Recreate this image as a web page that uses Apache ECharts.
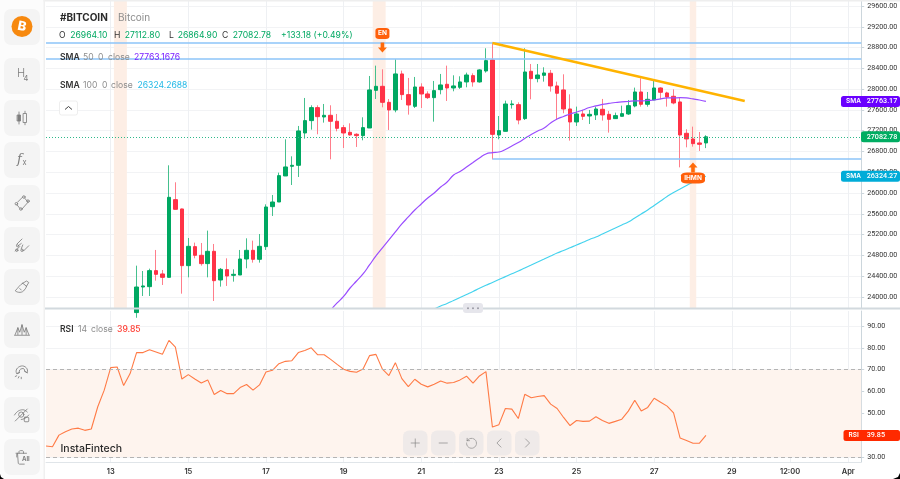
<!DOCTYPE html>
<html><head><meta charset="utf-8">
<style>html,body{margin:0;padding:0;background:#fff;overflow:hidden}#c{width:900px;height:479px}</style>
<script src="https://cdn.jsdelivr.net/npm/echarts@6/dist/echarts.min.js"></script>
</head><body><div id="c"></div>
<script>
// ---------- data ----------
const slotCount = 127;
const firstCandle = 14;
const tickIndex = [10,22,34,46,58,70,82,94,106,115,124];
const tickLabels = ['13','15','17','19','21','23','25','27','29','12:00','Apr'];
const candleOpen = [23700,24192,24199,24507,24443,24378,25873,25694,24603,24969,24802,24642,24879,24327,24526,24417,24423,24731,24898,24725,24969,25738,25828,26329,26515,26534,27156,27394,27644,27464,27496,27381,27259,27169,27131,27105,27252,27977,28054,27746,27599,28292,27894,27669,28041,27907,27836,27990,28093,28022,28035,28138,28260,28138,28349,28561,27118,27188,27701,27701,27432,28343,28202,28266,28305,28061,27984,27618,27368,27522,27483,27503,27612,27515,27432,27477,27522,27676,27945,27708,27791,28022,27926,27862,27753,27150,27041,26964,26964.10];
const candleClose = [24192,24212,24507,24436,24378,25918,25687,24603,24975,24802,24642,24879,24314,24532,24404,24436,24731,24898,24725,24975,25732,25828,26335,26502,26534,27195,27394,27644,27470,27496,27381,27246,27156,27118,27105,27259,27984,28054,27746,27599,28292,27894,27695,28041,27907,27836,27971,28080,28022,28061,28138,28272,28138,28369,28548,27130,27201,27714,27714,27406,28330,28202,28272,28311,28061,27920,27618,27368,27522,27477,27515,27618,27503,27419,27490,27528,27682,27945,27708,27804,28022,27939,27849,27734,27118,27041,26951,26938,27082.78];
const candleLow = [23600,24019,24019,24314,24231,24378,25687,24064,24378,24744,24603,24378,23923,24199,24212,24295,24423,24552,24661,24661,24905,25559,25828,26329,26155,26309,27047,27220,27131,27355,26649,27188,26867,27105,26887,27015,27252,27810,27650,27214,27554,27791,27509,27637,27637,27810,27374,27900,27772,27958,28003,28035,28048,28125,28317,26649,27034,27188,27625,27323,27406,27804,28131,28144,27952,27406,27535,27009,27291,27406,27329,27406,27394,27163,27432,27477,27503,27650,27663,27663,27791,27804,27663,27708,26495,26880,26893,26810,26864.90];
const candleHigh = [24603,24500,24545,24905,24520,26534,26207,25700,25135,25046,25039,25277,25020,24558,24744,24532,24905,25129,25084,25212,25783,25963,26393,27034,26707,27291,27830,27689,27689,27714,27689,27522,27310,27342,27150,27458,28253,28452,28381,27810,28574,28356,28215,28234,28112,27958,28157,28292,28452,28266,28247,28317,28304,28381,28786,28895,27483,27778,27785,27746,28786,28484,28484,28420,28369,28144,28285,27900,27663,27599,27599,27663,27811,27580,27548,27682,27791,28029,28208,27945,28163,28035,27950,27996,27843,27227,27278,27175,27112.80];
const sma50Start = 44;
const sma50 = [23750,23885,24010,24173,24308,24443,24616,24789,24943,25097,25251,25405,25540,25674,25790,25905,26001,26117,26213,26348,26415,26502,26588,26675,26752,26777,26790,26839,26906,26973,27050,27127,27195,27252,27349,27426,27474,27522,27560,27599,27647,27676,27705,27724,27743,27753,27762,27772,27772,27782,27791,27811,27830,27830,27836,27830,27811,27791,27763.17];
const sma100Start = 60;
const sma100 = [23770,23827,23875,23933,23990,24048,24106,24167,24225,24279,24337,24391,24447,24500,24558,24616,24674,24731,24789,24847,24895,24947,25001,25053,25107,25155,25212,25270,25328,25386,25443,25520,25597,25674,25761,25848,25934,26011,26078,26146,26213,26277,26324.27];
const rsi = [35.0,34.7,40.0,41.6,42.8,43.2,42.2,42.8,53.0,60.6,70.9,71.2,62.7,68.2,77.8,77.8,79.1,78.1,77.0,83.4,80.3,65.7,67.7,65.7,63.9,65.3,58.6,60.4,59.0,59.0,61.8,63.2,60.6,63.0,68.9,69.7,72.7,73.8,74.1,77.8,78.8,80.0,76.8,76.8,74.7,72.4,70.2,69.2,68.8,70.3,76.4,77.0,70.2,67.3,73.2,65.9,62.2,65.6,63.3,62.1,63.3,64.8,63.8,64.1,65.3,67.0,63.8,67.1,69.1,43.7,44.8,52.2,51.9,47.6,58.7,57.1,57.7,58.1,54.2,52.2,48.1,44.4,46.7,46.3,46.4,48.4,46.7,45.4,46.3,47.3,51.0,56.0,51.1,52.7,56.9,55.1,53.3,50.2,38.7,37.5,36.3,36.3,39.85];
const priceTicks = [24000,24400,24800,25200,25600,26000,26400,26800,27200,27600,28000,28400,28800,29200,29600];
const rsiTicks = [30,40,50,60,70,80,90];
const bandStart = [11,51,100];
const bandEnd = [12,52,100];
const levelsFull = [28888,28580];
const levelPartial = 26656;
const lastPrice = 27082.78, lastSma50 = 27763.17, lastSma100 = 26324.27, lastRsi = 39.85;

// ---------- helpers ----------
const categories = [];
(function(){ let t = Date.UTC(2023,2,12,8); for(let i=0;i<slotCount;i++){ categories.push(new Date(t).toISOString().slice(5,16)); t += 4*3600*1000; } })();
const pad = (start, arr) => new Array(start).fill(null).concat(arr);
const blanks = new Array(firstCandle).fill('-');
const wickData = blanks.concat(candleOpen.map((o,i)=>[o,candleClose[i],candleLow[i],candleHigh[i]]));
const bodyData = blanks.concat(candleOpen.map((o,i)=>[o,candleClose[i],Math.min(o,candleClose[i]),Math.max(o,candleClose[i])]));
const isTick = i => tickIndex.indexOf(i) >= 0;
const FONT = 'Inter, "Noto Sans", sans-serif';
const AXFONT = 'Roboto, "Noto Sans", sans-serif';
const yMin = 23788, yMax = 29715, rsiMin = 27.7, rsiMax = 96.85;
const GREEN='#00a862', RED='#ff3347';
const BLUE_LINE='#8cc4f8';

const xBase = {
  type:'category', data:categories, boundaryGap:false, min:0, max:slotCount-1,
  axisLine:{show:false}, axisTick:{show:false},
  splitLine:{show:true, interval:(i)=>isTick(i), lineStyle:{color:'#eef0f3',width:1}}
};
const yBase = {
  type:'value', position:'right', scale:true,
  axisLine:{show:true,lineStyle:{color:'#ccd6dc',width:1}},
  splitLine:{show:true,lineStyle:{color:'#f2f3f5',width:1}},
};
const chart = echarts.init(document.getElementById('c'),null,{renderer:'canvas'});
chart.setOption({
  animation:false, backgroundColor:'#fff',
  grid:[{left:46,top:0,width:815.2,height:308,outerBoundsMode:'none'},{left:46,top:311,width:815.2,height:151,outerBoundsMode:'none'}],
  xAxis:[
    Object.assign({},xBase,{gridIndex:0,axisLabel:{show:false}}),
    Object.assign({},xBase,{gridIndex:1,axisLine:{show:true,lineStyle:{color:'#e0e5e9'}},
      axisLabel:{show:true,interval:(i)=>isTick(i),formatter:(v,i)=>{const k=tickIndex.indexOf(i);return k>=0?tickLabels[k]:'';},
        fontFamily:FONT,fontSize:7.5,fontWeight:600,color:'#333',margin:6}})
  ],
  yAxis:[
    Object.assign({},yBase,{gridIndex:0,min:yMin,max:yMax,
      axisTick:{show:true,length:3,lineStyle:{color:'#ccd6dc'},customValues:priceTicks},
      axisLabel:{show:true,customValues:priceTicks,formatter:v=>v.toFixed(2),fontFamily:AXFONT,fontSize:7.2,color:'#333',margin:6}}),
    Object.assign({},yBase,{gridIndex:1,min:rsiMin,max:rsiMax,
      axisTick:{show:true,length:3,lineStyle:{color:'#ccd6dc'},customValues:rsiTicks},
      axisLabel:{show:true,customValues:rsiTicks,formatter:v=>v.toFixed(2),fontFamily:AXFONT,fontSize:7.2,color:'#333',margin:6}})
  ],
  series:[
    {type:'custom',name:'bands',xAxisIndex:0,yAxisIndex:0,z:1,silent:true,clip:true,
      encode:{x:[0,1]},
      data:bandStart.map((s,i)=>[s,bandEnd[i]]),
      renderItem:(p,api)=>{
        const a=api.coord([api.value(0),yMax]), b=api.coord([api.value(1),yMin]);
        const w=api.coord([1,yMax])[0]-api.coord([0,yMax])[0];
        return {type:'rect',shape:{x:a[0]-w/2,y:a[1],width:b[0]-a[0]+w,height:b[1]-a[1]},style:{fill:'#fdeee5'}};
      }},
    {type:'candlestick',name:'#BITCOIN wicks',xAxisIndex:0,yAxisIndex:0,z:3,barWidth:1,clip:true,data:wickData,
      itemStyle:{color:'#45c08e',color0:'#ff7e8b',borderColor:'#45c08e',borderColor0:'#ff7e8b',borderWidth:1},
      markLine:{silent:true,symbol:'none',label:{show:false},animation:false,lineStyle:{color:BLUE_LINE,width:1.5,type:'solid'},
        data:[
          {yAxis:levelsFull[0],lineStyle:{color:BLUE_LINE,width:1.5,type:'solid'}},
          {yAxis:levelsFull[1],lineStyle:{color:BLUE_LINE,width:1.5,type:'solid'}},
          [{coord:[categories[69],levelPartial],lineStyle:{color:BLUE_LINE,width:1.5,type:'solid'}},{coord:[categories[126],levelPartial]}],
          [{coord:[categories[69],28888],lineStyle:{color:'#ffb300',width:2.4,type:'solid'}},{coord:[categories[108],27772]}],
          {yAxis:lastPrice,lineStyle:{color:'#2fb98a',width:1,type:[1,2]}}
        ]},
      markPoint:{silent:true,animation:false,
        data:[
          {coord:[categories[52],29071],symbol:'roundRect',symbolSize:[14,11],itemStyle:{color:'#ff5f0a'},
            label:{show:true,position:'inside',formatter:'EN',color:'#fff',fontSize:6.5,fontWeight:700,fontFamily:FONT}},
          {coord:[categories[52],28801],symbol:'path://M3,0H7V5H10L5,10L0,5H3Z',symbolSize:[9,10],itemStyle:{color:'#ff6a0a'},label:{show:false}},
          {coord:[categories[100],26290],symbol:'roundRect',symbolSize:[24,11],itemStyle:{color:'#ff5f0a'},
            label:{show:true,position:'inside',formatter:'IHMN',color:'#fff',fontSize:6.5,fontWeight:700,fontFamily:FONT}},
          {coord:[categories[100],26492],symbol:'path://M3,10H7V5H10L5,0L0,5H3Z',symbolSize:[9,10],itemStyle:{color:'#ff6a0a'},label:{show:false}}
        ]}
    },
    {type:'candlestick',name:'#BITCOIN',xAxisIndex:0,yAxisIndex:0,z:3,barWidth:4,clip:true,data:bodyData,
      itemStyle:{color:GREEN,color0:RED,borderColor:GREEN,borderColor0:RED,borderWidth:1}},
    {type:'line',name:'SMA 50',xAxisIndex:0,yAxisIndex:0,z:4,showSymbol:false,silent:true,clip:true,smooth:0.5,data:pad(sma50Start,sma50),
      lineStyle:{color:'#9a4dff',width:1.2}},
    {type:'line',name:'SMA 100',xAxisIndex:0,yAxisIndex:0,z:4,showSymbol:false,silent:true,clip:true,smooth:0.5,data:pad(sma100Start,sma100),
      lineStyle:{color:'#45d3ee',width:1.2}},
    {type:'line',name:'RSI',xAxisIndex:1,yAxisIndex:1,z:4,showSymbol:false,silent:true,data:rsi,
      lineStyle:{color:'#ff7a45',width:1.1},
      markArea:{silent:true,animation:false,itemStyle:{color:'#fef4ee'},data:[[{yAxis:70},{yAxis:30}]]},
      markLine:{silent:true,symbol:'none',label:{show:false},animation:false,lineStyle:{color:'#b4b4b4',width:1,type:[4,3]},data:[{yAxis:70},{yAxis:30}]}}
  ]
});

// ---------- overlay furniture ----------
const Z=50;
const T=(x,y,text,color,size,weight,fam)=>({type:'text',z:Z+3,x:x,y:y,silent:true,style:{text:text,fill:color,font:(weight||400)+' '+size+'px '+(fam||FONT),textVerticalAlign:'middle',textAlign:'left'}});
const R=(x,y,w,h,fill,r,z)=>({type:'rect',z:z||Z,silent:true,shape:{x:x,y:y,width:w,height:h,r:r||0},style:{fill:fill}});
const svg=(body,size)=>'data:image/svg+xml;utf8,'+encodeURIComponent('<svg xmlns="http://www.w3.org/2000/svg" width="'+(size*3)+'" height="'+(size*3)+'" viewBox="0 0 24 24" fill="none" stroke="#7d7d7d" stroke-width="1.1" stroke-linecap="round" stroke-linejoin="round">'+body+'</svg>');
const I=(cx,cy,size,body)=>({type:'image',z:Z+3,silent:true,style:{image:svg(body,size),x:cx-size/2,y:cy-size/2,width:size,height:size}});
const els=[];
els.push(R(0,0,900,1.5,'#eeeeee',0,Z-1));
// sidebar
els.push(R(0,0,43.5,479,'#fcfcfc',0,Z));
els.push(R(43.5,0,1.5,479,'#f0f0f0',0,Z));
const btnY=[9,58,100,142,185,227,269,312,354,397,439];
btnY.forEach(y=>els.push(R(4,y,36,36,'#f4f4f4',7,Z+1)));
els.push({type:'circle',z:Z+2,silent:true,shape:{cx:22,cy:26.5,r:10.5},style:{fill:'#f7890f'}});
els.push({type:'text',z:Z+3,silent:true,x:22,y:26.5,rotation:-0.2,style:{text:'B',fill:'#fff',font:'800 13px '+FONT,textAlign:'center',textVerticalAlign:'middle'}});
els.push(T(17,74,'H','#7d7d7d',11,300));
els.push(T(23.5,79,'4','#7d7d7d',7.5,400));
els.push(I(22,118,18,'<path d="M8 4v16M16 3v18"/><rect x="6" y="8" width="4" height="8" fill="#7d7d7d"/><rect x="14" y="6" width="4" height="12" fill="#f4f4f4"/>'));
els.push({type:'text',z:Z+3,silent:true,x:17,y:160,style:{text:'f',fill:'#7d7d7d',font:'italic 300 13px "DejaVu Serif", serif',textVerticalAlign:'middle'}});
els.push(T(22.5,163,'x','#7d7d7d',7.5,400));
els.push(I(22,203,18,'<path d="M6 11L13 4M16 6L20 11L12 20M9 19L5 14"/><circle cx="14.5" cy="4" r="1.7"/><circle cx="20" cy="9.5" r="1.7"/><circle cx="10.5" cy="20" r="1.7"/><circle cx="4.5" cy="13" r="1.7"/>'));
els.push(I(22,245,18,'<path d="M5 11L12 4M7 13L11 10M3 20L9 14M13 12L11 17M14 20L21 13"/><circle cx="5" cy="19" r="1.6"/><circle cx="12" cy="19" r="1.6"/><circle cx="6" cy="13" r="1.4"/>'));
els.push(I(22,287,18,'<path d="M13 7L18 4L21 6L18 11M13 7L18 11M13 7C9 9 7 13 3 17C6 20 13 20 15 16C17 14 18 12 18 11M9 14L11 16"/>'));
els.push(I(22,330,18,'<path d="M2 19H22M3 18L6.5 9L9 15L12 5L15 15L17.5 9L21 18M6.5 9V18M12 5V18M17.5 9V18"/>'));
els.push(I(22,372,18,'<path d="M5 14C2 10 6 5 11 4C16 3 21 8 19 13L15.5 11C16 8 14 7 12 7.5C9.5 8 7.5 10 8.5 12.5Z"/><path d="M8.5 12.5L5 14M19 13L15.5 11M3 18L5 17M7 20L8 18M11 21L11 19"/>'));
els.push(I(22,415,18,'<path d="M2 12C5 7 9 5 13 5C15 5 17 6 19 8M21 12C18 16 14 18 11 18"/><circle cx="11" cy="11.5" r="3.5"/><path d="M3 20L19 4"/><rect x="15" y="15" width="6" height="6" rx="1"/>'));
els.push(I(22,457,18,'<path d="M4 7H18M8 7V5C8 4 9 3.5 10 3.5H12C13 3.5 14 4 14 5V7M6 7L7 20C7 21 8 21.5 9 21.5H15M5 8V12"/>'));
els.push(T(22,459,'All','#7d7d7d',6,700));
// pane separator
els.push(R(45,307.5,855,2,'#d2d9de',0,Z));
els.push(R(463,303,20,10,'#e6e6ec',3,Z+1));
[468,473,478].forEach(x=>els.push({type:'circle',z:Z+2,silent:true,shape:{cx:x,cy:308.3,r:1},style:{fill:'#9a9aa5'}}));
// header
els.push(T(60,18,'#BITCOIN','#2b2b2b',10,700));
els.push(T(118,18,'Bitcoin','#8d8d8d',10,400));
[[59,'O','#333'],[70.3,'26964.10',GREEN],[114,'H','#333'],[124.7,'27112.80',GREEN],[169,'L','#333'],[177.7,'26864.90',GREEN],[222,'C','#333'],[232.7,'27082.78',GREEN],[281,'+133.18 (+0.49%)',GREEN]]
  .forEach(a=>els.push(T(a[0],35.5,a[1],a[2],8.6,400)));
els.push(T(60,57,'SMA','#333',8.6,600));els.push(T(83,57,'50','#8d8d8d',8.6));els.push(T(98,57,'0','#8d8d8d',8.6));els.push(T(108,57,'close','#8d8d8d',8.6));els.push(T(134,57,'27763.1676','#7a1fff',8.6));
els.push(T(60,85,'SMA','#333',8.6,600));els.push(T(83,85,'100','#8d8d8d',8.6));els.push(T(102,85,'0','#8d8d8d',8.6));els.push(T(111,85,'close','#8d8d8d',8.6));els.push(T(137.5,85,'26324.2688','#22b8e6',8.6));
els.push({type:'rect',z:Z+2,silent:true,shape:{x:59.5,y:101,width:18,height:14,r:2},style:{fill:'#fff',stroke:'#eeeeee',lineWidth:1}});
els.push({type:'polyline',z:Z+3,silent:true,shape:{points:[[65,109.5],[68.5,106.5],[72,109.5]]},style:{fill:'none',stroke:'#444',lineWidth:1}});
// rsi legend
els.push(T(60,329.5,'RSI','#333',8.6,600));els.push(T(78,329.5,'14','#8d8d8d',8.6));els.push(T(91,329.5,'close','#8d8d8d',8.6));els.push(T(117,329.5,'39.85','#ff3b30',8.6,500));
els.push(T(60.5,449,'InstaFintech','#2b2b2b',10.5,500));
// toolbar
[[403,'<path d="M12 5V19M5 12H19"/>'],[431,'<path d="M5 12H19"/>'],[459,'<path d="M5 8L5 4M5 8H9"/><path d="M6 7A8.5 8.5 0 1 1 4 12" stroke-dasharray="3 1.6"/>'],[487,'<path d="M15 5L8 12L15 19"/>'],[515,'<path d="M9 5L16 12L9 19"/>']].forEach(b=>{
  els.push(R(b[0],430.5,24.5,25,'rgba(226,226,230,0.55)',6,Z+1));
  els.push(I(b[0]+12.25,443,14,b[1]));
});
// price tags
const tagY=(v,g)=>chart.convertToPixel({yAxisIndex:g},v);
const tag=(v,g,x,fill,label,text)=>{
  const y=tagY(v,g);
  els.push(R(x,y-5.5,900-x,11,fill,2.5,Z+1));
  if(label) els.push(T(x+5,y,label,'#fff',6.5,600));
  els.push(T(866.7,y,text,'#fff',7.2,500,AXFONT));
};
tag(lastSma50,0,841,'#6a00ff','SMA','27763.17');
tag(lastPrice,0,861,'#00ad62',null,'27082.78');
tag(lastSma100,0,841,'#00acd8','SMA','26324.27');
tag(lastRsi,1,843.5,'#ff2a00','RSI','39.85');
// rounded screenshot corners
els.push({type:'polygon',z:Z+5,silent:true,shape:{points:[[0,474],[1,477],[4,479],[0,479]]},style:{fill:'#000'}});
els.push({type:'polygon',z:Z+5,silent:true,shape:{points:[[900,473],[898,477],[893,479],[900,479]]},style:{fill:'#000'}});
chart.setOption({graphic:{elements:els}});
</script></body></html>
